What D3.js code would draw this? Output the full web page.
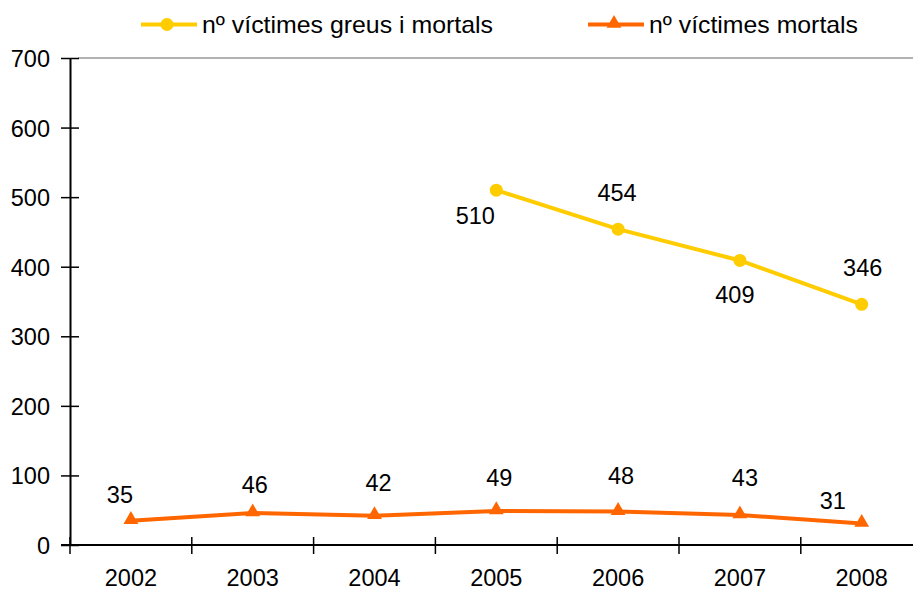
<!DOCTYPE html>
<html>
<head>
<meta charset="utf-8">
<script src="https://cdn.jsdelivr.net/npm/d3@7"></script>
<style>
  body { margin: 0; background: #fff; }
  text { font-family: "Liberation Sans", Arial, sans-serif; fill: #000; }
</style>
</head>
<body>
<svg id="chart" width="913" height="591"></svg>
<script>
// chart data
const years = ["2002", "2003", "2004", "2005", "2006", "2007", "2008"];
const greusMortals = [null, null, null, 510, 454, 409, 346];
const mortals = [35, 46, 42, 49, 48, 43, 31];
const yTicks = [0, 100, 200, 300, 400, 500, 600, 700];
const seriesNames = ["nº víctimes greus i mortals", "nº víctimes mortals"];

// label placement (dx, dy from point), hand-tuned like the original
const greusLabelOffset = [null, null, null, [-21, 34], [-1, -28], [-5, 43], [1, -28]];
const mortalsLabelOffset = [[-11, -18], [2, -20], [4, -25], [3, -25], [3, -28], [5, -29], [-29, -14]];

const svg = d3.select("#chart");
const margin = { left: 70, top: 58 };
const plotRight = 913;
const bandWidth = 121.8;
const fontSize = "23.5px";

const x = d3.scaleBand()
    .domain(years)
    .range([margin.left, margin.left + bandWidth * years.length]);

const y = d3.scaleLinear()
    .domain([0, 700])
    .range([545, margin.top]);

// top border of the plot area
svg.append("line")
    .attr("x1", margin.left + 8).attr("x2", plotRight)
    .attr("y1", y(700)).attr("y2", y(700))
    .attr("stroke", "#999").attr("stroke-width", 1.5);

// y axis
const yAxis = svg.append("g")
    .attr("transform", `translate(${margin.left},0)`)
    .call(d3.axisLeft(y).tickValues(yTicks).tickSize(0).tickPadding(20));
yAxis.select(".domain").attr("stroke", "#000").attr("stroke-width", 2);
yAxis.selectAll(".tick line").remove();
yAxis.selectAll(".tick").append("line")
    .attr("x1", -9).attr("x2", 9)
    .attr("stroke", "#000").attr("stroke-width", 1.5);
yAxis.selectAll("text").style("font-size", fontSize).attr("dy", "0.36em");

// x axis
svg.append("line")
    .attr("x1", margin.left - 9).attr("x2", plotRight)
    .attr("y1", y(0)).attr("y2", y(0))
    .attr("stroke", "#000").attr("stroke-width", 2);

svg.append("g").selectAll("line")
    .data(years)
    .enter().append("line")
    .attr("x1", d => x(d)).attr("x2", d => x(d))
    .attr("y1", y(0) - 8).attr("y2", y(0) + 9)
    .attr("stroke", "#000").attr("stroke-width", 1.5);

svg.append("g").selectAll("text")
    .data(years)
    .enter().append("text")
    .attr("x", d => x(d) + x.bandwidth() / 2)
    .attr("y", 586)
    .attr("text-anchor", "middle")
    .style("font-size", fontSize)
    .text(d => d);

const cx = d => x(d) + x.bandwidth() / 2;

// series lines
const yellow = "#FFCC00", orange = "#FF6600";

const line = d3.line()
    .defined(d => d.v != null)
    .x(d => cx(d.year))
    .y(d => y(d.v));

const greusData = years.map((yr, i) => ({ year: yr, v: greusMortals[i], off: greusLabelOffset[i] }));
const mortalsData = years.map((yr, i) => ({ year: yr, v: mortals[i], off: mortalsLabelOffset[i] }));

svg.append("path")
    .datum(greusData)
    .attr("d", line)
    .attr("fill", "none")
    .attr("stroke", yellow)
    .attr("stroke-width", 4);

svg.append("path")
    .datum(mortalsData)
    .attr("d", line)
    .attr("fill", "none")
    .attr("stroke", orange)
    .attr("stroke-width", 4);

svg.append("g").selectAll("circle")
    .data(greusData.filter(d => d.v != null))
    .enter().append("circle")
    .attr("cx", d => cx(d.year))
    .attr("cy", d => y(d.v))
    .attr("r", 6.5)
    .attr("fill", yellow);

const tri = d3.symbol().type(d3.symbolTriangle).size(95);
svg.append("g").selectAll("path")
    .data(mortalsData)
    .enter().append("path")
    .attr("d", tri)
    .attr("transform", d => `translate(${cx(d.year)},${y(d.v) - 1})`)
    .attr("fill", orange);

// data labels
const labels = svg.append("g").style("font-size", fontSize).attr("text-anchor", "middle");
labels.selectAll("text.g")
    .data(greusData.filter(d => d.v != null))
    .enter().append("text")
    .attr("x", d => cx(d.year) + d.off[0])
    .attr("y", d => y(d.v) + d.off[1])
    .text(d => d.v);
labels.selectAll("text.m")
    .data(mortalsData)
    .enter().append("text")
    .attr("x", d => cx(d.year) + d.off[0])
    .attr("y", d => y(d.v) + d.off[1])
    .text(d => d.v);

// legend
const legend = svg.append("g").style("font-size", "24px");
const legendX = [141, 588];
const legendTextLen = [291, 209];
const legendColors = [yellow, orange];
seriesNames.forEach((name, i) => {
    const g = legend.append("g").attr("transform", `translate(${legendX[i]},24.5)`);
    g.append("line").attr("x1", 0).attr("x2", 56)
        .attr("stroke", legendColors[i]).attr("stroke-width", 4);
    if (i === 0) {
        g.append("circle").attr("cx", 26).attr("r", 6.5).attr("fill", yellow);
    } else {
        g.append("path").attr("d", tri).attr("transform", "translate(26,-1)").attr("fill", orange);
    }
    g.append("text").attr("x", 61).attr("y", 8)
        .attr("textLength", legendTextLen[i])
        .attr("lengthAdjust", "spacingAndGlyphs")
        .text(name);
});
</script>
</body>
</html>
